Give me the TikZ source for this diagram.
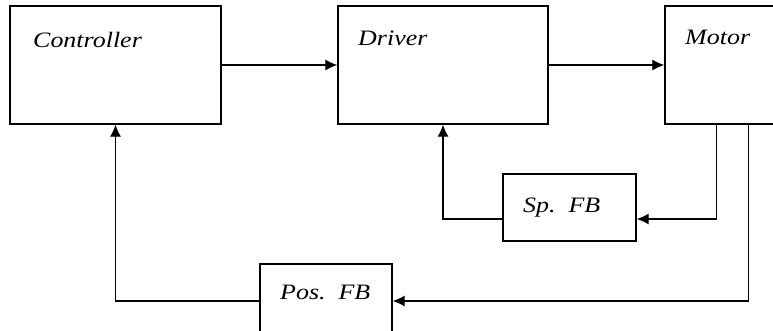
\documentclass[tikz,border=0pt]{standalone}
\usepackage{fontspec}
\setmainfont{Liberation Serif}
\newfontfamily\lblfont[FakeStretch=1.18]{Liberation Serif Italic}
\usetikzlibrary{arrows.meta}
\begin{document}
\begin{tikzpicture}[x=1pt,y=-1pt,
  box/.style={draw=black,line width=1.3pt,rectangle,inner sep=0pt},
  lbl/.style={font=\lblfont\fontsize{22}{26}\selectfont,inner sep=0pt,anchor=base west},
  conn/.style={draw=black,line width=1.2pt},
  arr/.style={conn,-{Latex[length=12pt,width=11pt]}}]
\useasboundingbox (0,0) rectangle (773,330);
\clip (0,0) rectangle (773,330);
\fill[white] (0,0) rectangle (773,330);
\node[box,minimum width=211pt,minimum height=118pt] (ctrl) at (115.5,65) {};
\node[box,minimum width=210pt,minimum height=118pt] (drv) at (443,65) {};
\node[box,minimum width=215pt,minimum height=118pt] (mot) at (772.5,65) {};
\node[box,minimum width=133pt,minimum height=67pt] (sp) at (569.5,207.5) {};
\node[box,minimum width=132pt,minimum height=68pt] (pos) at (326,298) {};
\node[lbl] (ctrlL) at (33,47) {Controller};
\node[lbl] (drvL) at (358,45) {Driver};
\node[lbl] (motL) at (685,44) {Motor};
\node[lbl] (spL) at (523,212) {Sp.\ \ FB};
\node[lbl] (posL) at (280,299) {Pos.\ \ FB};
\draw[arr] (ctrl.east) -- (drv.west);
\draw[arr] (drv.east) -- (mot.west);
\draw[arr] ([xshift=52pt]mot.south west) |- ([yshift=-11.5pt]sp.east);
\draw[arr] ([yshift=-11.5pt]sp.west) -| (drv.south);
\draw[arr] ([xshift=84pt]mot.south west) |- ([yshift=-3pt]pos.east);
\draw[arr] ([yshift=-3pt]pos.west) -| (ctrl.south);
\end{tikzpicture}
\end{document}
